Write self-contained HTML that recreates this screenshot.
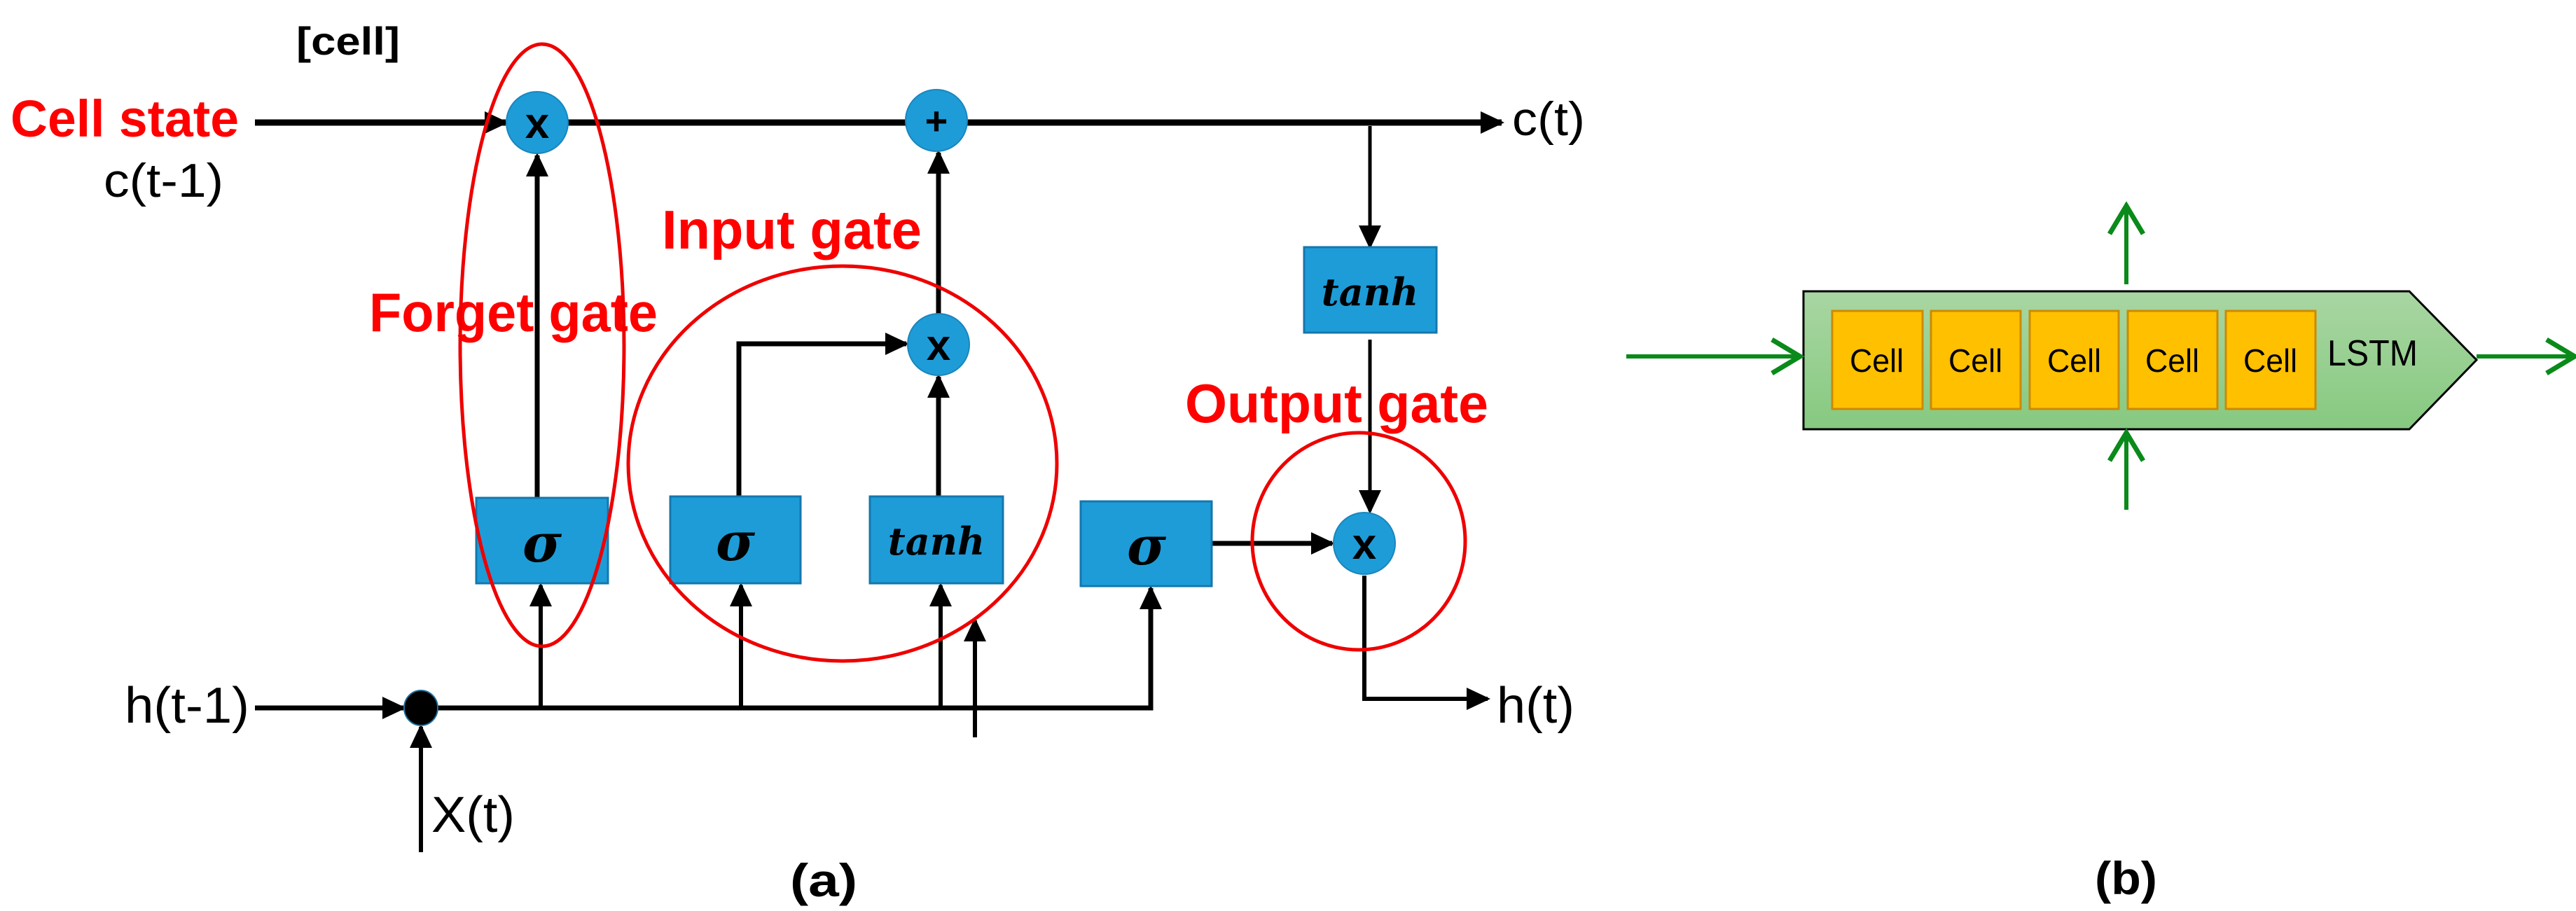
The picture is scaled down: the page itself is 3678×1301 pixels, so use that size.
<!DOCTYPE html>
<html><head><meta charset="utf-8"><style>
html,body{margin:0;padding:0;background:#fff;}
svg{display:block;}
</style></head><body>
<svg width="3678" height="1301" viewBox="0 0 3678 1301" xmlns="http://www.w3.org/2000/svg">
<defs>
<marker id="ah" markerWidth="34" markerHeight="32" refX="30" refY="16" orient="auto" markerUnits="userSpaceOnUse">
<path d="M0,0 L34,16 L0,32 z" fill="#000"/></marker>
<marker id="gh" markerWidth="50" markerHeight="56" refX="44" refY="28" orient="auto" markerUnits="userSpaceOnUse">
<path d="M4,4 L44,28 L4,52" fill="none" stroke="#0a8a1a" stroke-width="7"/></marker>
<linearGradient id="gg" x1="0" y1="0" x2="0" y2="1">
<stop offset="0" stop-color="#a9d6a3"/><stop offset="1" stop-color="#86c980"/></linearGradient>
</defs>

<g font-family="Liberation Sans, sans-serif" lengthAdjust="spacingAndGlyphs">
<text x="423" y="78" font-size="56" font-weight="bold" textLength="148" lengthAdjust="spacingAndGlyphs">[cell]</text>
<text x="15" y="195" font-size="74" font-weight="bold" fill="#f00" textLength="326" lengthAdjust="spacingAndGlyphs">Cell state</text>
<text x="148" y="281" font-size="68" textLength="171" lengthAdjust="spacingAndGlyphs">c(t-1)</text>
<text x="2159" y="193" font-size="68" textLength="104" lengthAdjust="spacingAndGlyphs">c(t)</text>
<text x="178" y="1032" font-size="72" textLength="178" lengthAdjust="spacingAndGlyphs">h(t-1)</text>
<text x="2137" y="1032" font-size="72" textLength="111" lengthAdjust="spacingAndGlyphs">h(t)</text>
<text x="616" y="1188" font-size="72" textLength="119" lengthAdjust="spacingAndGlyphs">X(t)</text>
<text x="945" y="355" font-size="78" font-weight="bold" fill="#f00" textLength="371" lengthAdjust="spacingAndGlyphs">Input gate</text>
<text x="527" y="473" font-size="78" font-weight="bold" fill="#f00" textLength="412" lengthAdjust="spacingAndGlyphs">Forget gate</text>
<text x="1692" y="603" font-size="78" font-weight="bold" fill="#f00" textLength="433" lengthAdjust="spacingAndGlyphs">Output gate</text>
<text x="1128" y="1280" font-size="66" font-weight="bold" textLength="96" lengthAdjust="spacingAndGlyphs">(a)</text>
<text x="2991" y="1277" font-size="66" font-weight="bold" textLength="89" lengthAdjust="spacingAndGlyphs">(b)</text>
</g>

<!-- lines -->
<g stroke="#000" stroke-width="9" fill="none">
<line x1="364" y1="175" x2="722" y2="175" marker-end="url(#ah)"/>
<line x1="811" y1="175" x2="2144" y2="175" marker-end="url(#ah)"/>
<line x1="767" y1="711" x2="767" y2="222" stroke-width="7" marker-end="url(#ah)"/>
<polyline points="1055,709 1055,491 1294,491" stroke-width="7" marker-end="url(#ah)"/>
<line x1="1340" y1="709" x2="1340" y2="538" stroke-width="7" marker-end="url(#ah)"/>
<line x1="1340" y1="448" x2="1340" y2="218" stroke-width="7" marker-end="url(#ah)"/>
<line x1="1956" y1="180" x2="1956" y2="352" stroke-width="5" marker-end="url(#ah)"/>
<line x1="1956" y1="485" x2="1956" y2="730" stroke-width="5" marker-end="url(#ah)"/>
<line x1="1730" y1="776" x2="1902" y2="776" stroke-width="7" marker-end="url(#ah)"/>
<polyline points="1948,822 1948,998 2124,998" stroke-width="6" marker-end="url(#ah)"/>
<line x1="364" y1="1011" x2="576" y2="1011" stroke-width="7" marker-end="url(#ah)"/>
<polyline points="601,1011 1643,1011 1643,840" stroke-width="7" marker-end="url(#ah)"/>
<line x1="772" y1="1011" x2="772" y2="836" stroke-width="6" marker-end="url(#ah)"/>
<line x1="1058" y1="1011" x2="1058" y2="836" stroke-width="6" marker-end="url(#ah)"/>
<line x1="1343" y1="1011" x2="1343" y2="836" stroke-width="6" marker-end="url(#ah)"/>
<line x1="1392" y1="1053" x2="1392" y2="886" stroke-width="6" marker-end="url(#ah)"/>
<line x1="601" y1="1217" x2="601" y2="1038" stroke-width="6" marker-end="url(#ah)"/>
</g>
<ellipse cx="601" cy="1011" rx="24" ry="25" fill="#000" stroke="#1e6e9c" stroke-width="2"/>

<!-- boxes -->
<g fill="#1e9cd8" stroke="#1477ae" stroke-width="3">
<rect x="680" y="711" width="188" height="122"/>
<rect x="957" y="709" width="186" height="124"/>
<rect x="1242" y="709" width="190" height="124"/>
<rect x="1543" y="716" width="187" height="121"/>
<rect x="1862" y="353" width="189" height="122"/>
</g>
<g font-family="DejaVu Serif, Liberation Serif, serif" font-style="italic" font-weight="bold" fill="#000" text-anchor="middle">
<text x="774" y="802" font-size="76">σ</text>
<text x="1050" y="800" font-size="76">σ</text>
<text x="1637" y="806" font-size="76">σ</text>
<text x="1337" y="792" font-size="54">tanh</text>
<text x="1956" y="436" font-size="54">tanh</text>
</g>

<!-- circles -->
<g fill="#1e9cd8" stroke="#1a86bd" stroke-width="2">
<circle cx="767" cy="175" r="44"/>
<circle cx="1337" cy="172" r="44"/>
<circle cx="1340" cy="492" r="44"/>
<circle cx="1948" cy="776" r="44"/>
</g>
<g font-family="Liberation Sans, sans-serif" font-weight="bold" font-size="62" text-anchor="middle" fill="#000">
<text x="767" y="197">x</text>
<text x="1340" y="514">x</text>
<text x="1948" y="798">x</text>
<text x="1337" y="192" font-size="56">+</text>
</g>

<!-- red gate outlines -->
<g fill="none" stroke="#e00" stroke-width="5">
<ellipse cx="774" cy="493" rx="117" ry="430"/>
<ellipse cx="1203" cy="662" rx="306" ry="282"/>
<ellipse cx="1940" cy="773" rx="152" ry="155"/>
</g>

<!-- panel b -->
<path d="M2575,416 L3440,416 L3536,514 L3440,613 L2575,613 z" fill="url(#gg)" stroke="#000" stroke-width="3"/>
<g fill="#ffc000" stroke="#cc8a00" stroke-width="3">
<rect x="2616" y="444" width="129" height="140"/>
<rect x="2757" y="444" width="128" height="140"/>
<rect x="2898" y="444" width="127" height="140"/>
<rect x="3038" y="444" width="128" height="140"/>
<rect x="3178" y="444" width="128" height="140"/>
</g>
<g font-family="Liberation Sans, sans-serif" font-size="46" fill="#000">
<text x="2641" y="531" textLength="77" lengthAdjust="spacingAndGlyphs">Cell</text>
<text x="2782" y="531" textLength="77" lengthAdjust="spacingAndGlyphs">Cell</text>
<text x="2923" y="531" textLength="77" lengthAdjust="spacingAndGlyphs">Cell</text>
<text x="3063" y="531" textLength="77" lengthAdjust="spacingAndGlyphs">Cell</text>
<text x="3203" y="531" textLength="77" lengthAdjust="spacingAndGlyphs">Cell</text>
<text x="3323" y="522" font-size="52" textLength="129" lengthAdjust="spacingAndGlyphs">LSTM</text>
</g>
<g stroke="#0a8a1a" stroke-width="6" fill="none">
<line x1="2322" y1="509" x2="2570" y2="509" marker-end="url(#gh)"/>
<line x1="3536" y1="509" x2="3676" y2="509" marker-end="url(#gh)"/>
<line x1="3036" y1="406" x2="3036" y2="294" marker-end="url(#gh)"/>
<line x1="3036" y1="728" x2="3036" y2="618" marker-end="url(#gh)"/>
</g>
</svg>
</body></html>
